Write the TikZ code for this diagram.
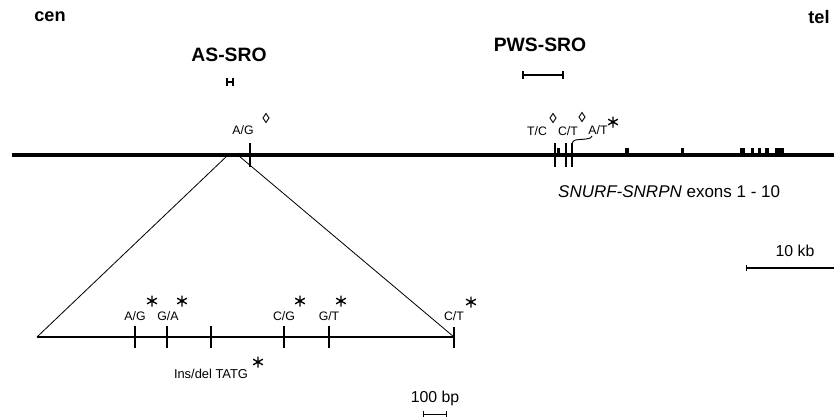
\documentclass[tikz,border=0pt]{standalone}
\usepackage{fontspec}
\setmainfont{Liberation Sans}
\usetikzlibrary{arrows.meta, positioning, calc}
\tikzset{
	side/.style={font=\fontsize{15.5}{18}\selectfont\bfseries, inner sep=0pt},
	hdr/.style ={font=\fontsize{16.5}{19}\selectfont\bfseries, inner sep=0pt},
	lbl/.style ={font=\fontsize{10.5}{12}\selectfont, inner sep=0pt},
	big/.style ={font=\fontsize{13.5}{16}\selectfont, inner sep=0pt},
	chrom/.style={line width=2.6pt},
	mtick/.style={line width=1.7pt},
	btick/.style={line width=1.3pt},
	sro/.style  ={{Bar[width=2.2mm]}-{Bar[width=2.2mm]}, line width=1.4pt},
	bar/.style  ={{Bar[width=1.6mm]}-{Bar[width=1.6mm]}, line width=0.8pt},
	% mutation marks
	ast/.pic={\draw[line width=1.15pt] (0,-5.5) -- (0,5.5) (-4.8,-2.8) -- (4.8,2.8) (-4.8,2.8) -- (4.8,-2.8);},
	dia/.pic={\draw[line width=0.8pt] (0,-4.5) -- (3,0) -- (0,4.5) -- (-3,0) -- cycle;},
}
\begin{document}
\begin{tikzpicture}[x=0.03cm, y=-0.03cm]
	\useasboundingbox (0,0) rectangle (834,418);
	\node[side] (cen) at (50,17) {cen};
	\node[side] (tel) at (819,17) {tel};
	\node[hdr] (as) at (229,55) {AS-SRO};
	\node[hdr] (pws) at (540,45) {PWS-SRO};
	\coordinate (as1) at (226,82); \coordinate (as2) at (234,82);
	\coordinate (pws1) at (522,75); \coordinate (pws2) at (564,75);
	\draw[sro] (as1) -- (as2);
	\draw[sro] (pws1) -- (pws2);
	% chromosome
	\coordinate (cL) at (12,155); \coordinate (cR) at (834,155);
	\draw[chrom] (cL) -- (cR);
	\foreach \x in {250,555,566,572} \draw[mtick] (\x,143) -- (\x,167);
	\foreach \a/\b in {557/560,625/629,681/684,740/745,751/754,758/761,765/769,775/784}
		\fill (\a,148) rectangle (\b,155);
	\node[lbl] (ag) at (243,130) {A/G};
	\pic at (266,118) {dia};
	\node[lbl] (tc) at (537,131) {T/C};
	\pic at (553,118) {dia};
	\node[lbl] (ct) at (568,131) {C/T};
	\pic at (582,117) {dia};
	\node[lbl] (at) at (598,130) {A/T};
	\pic at (613,122) {ast};
	\coordinate (atl) at (592,136);
	\draw[line width=0.8pt] (572,144) .. controls (573,139) and (576,140) .. (586,139) .. controls (591,138) .. (atl);
	\node[big, anchor=west, font=\fontsize{14.5}{17}\selectfont] (gene) at (558,192) {\textit{SNURF-SNRPN} exons 1 - 10};
	\node[big] (kb) at (795,251) {10 kb};
	\coordinate (kb1) at (746,268); \coordinate (kb2) at (834,268);
	\draw[line width=1.1pt, {Bar[width=2mm]}-] (kb1) -- (kb2);
	% zoomed region
	\coordinate (z1) at (228,155); \coordinate (z2) at (239,156);
	\coordinate (bL) at (37,337); \coordinate (bR) at (454,337);
	\draw[line width=0.7pt] (z1) -- (bL);
	\draw[line width=0.7pt] (z2) -- (bR);
	\draw[btick] (bL) -- (bR);
	\foreach \x in {135,167,211,284,329} \draw[btick] (\x,326) -- (\x,348);
	\draw[mtick] (454,327) -- (454,348);
	\node[lbl] (b1) at (135,316) {A/G};
	\node[lbl] (b2) at (168,316) {G/A};
	\node[lbl] (b3) at (284,316) {C/G};
	\node[lbl] (b4) at (329,316) {G/T};
	\node[lbl] (b5) at (454,316) {C/T};
	\foreach \x in {152,182,300,341} \pic at (\x,301) {ast};
	\pic at (471,302) {ast};
	\node[lbl, font=\fontsize{11}{13}\selectfont] (ins) at (211,374) {Ins/del TATG};
	\pic at (258,362) {ast};
	\node[big] (bp) at (435,398) {100 bp};
	\coordinate (bp1) at (423,414); \coordinate (bp2) at (447,414);
	\draw[bar] (bp1) -- (bp2);
\end{tikzpicture}
\end{document}
